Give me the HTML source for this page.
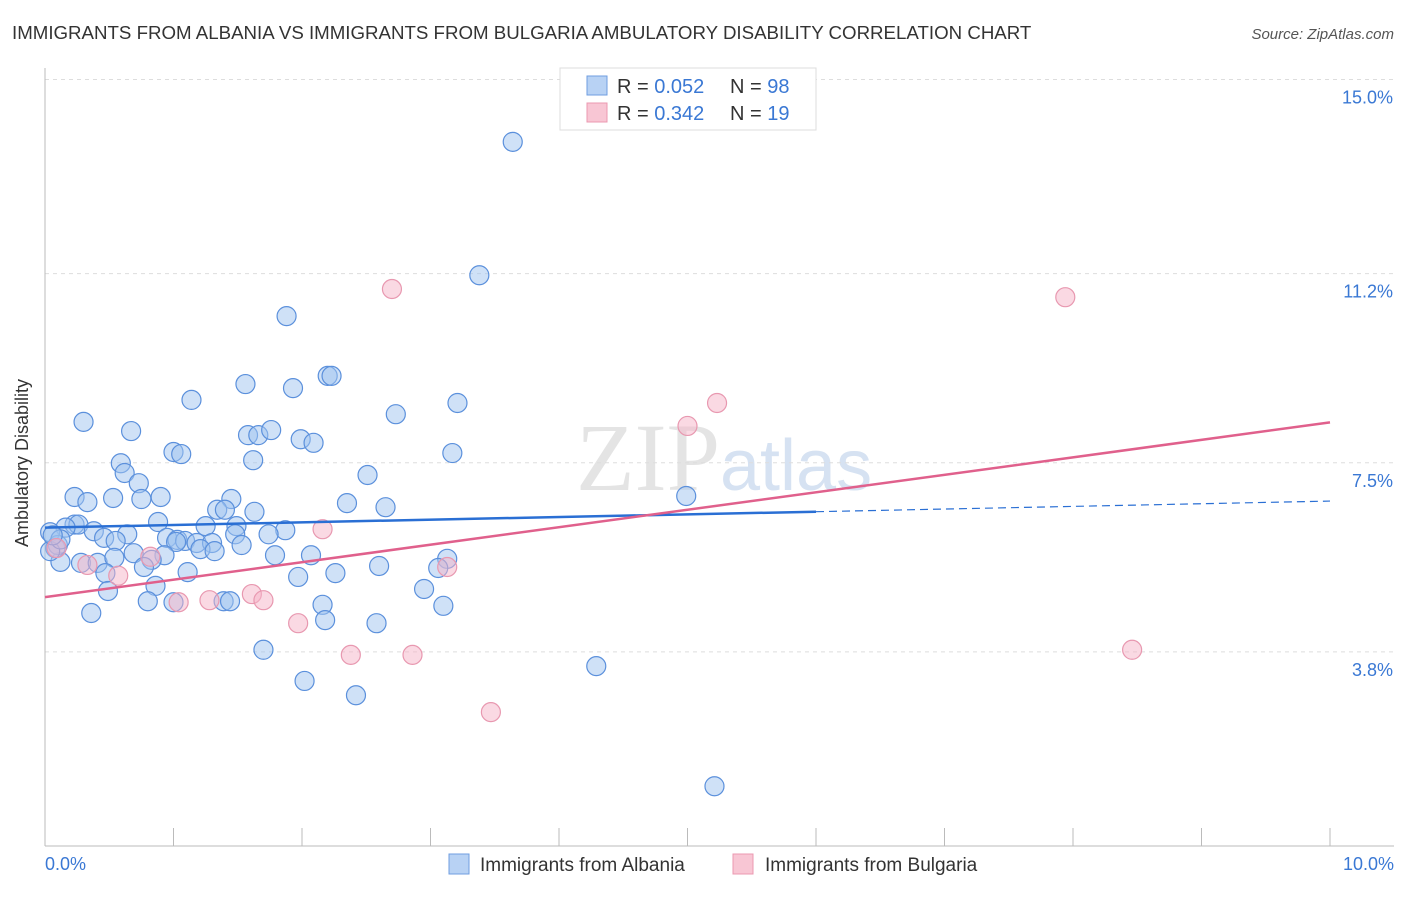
<!DOCTYPE html>
<html><head><meta charset="utf-8"><style>
body{margin:0;background:#fff;font-family:"Liberation Sans",sans-serif}
</style></head><body>
<svg width="1406" height="892" xmlns="http://www.w3.org/2000/svg" font-family="Liberation Sans, sans-serif">
<text x="12" y="39" font-size="18.7" fill="#333">IMMIGRANTS FROM ALBANIA VS IMMIGRANTS FROM BULGARIA AMBULATORY DISABILITY CORRELATION CHART</text>
<text x="1394" y="39" font-size="15" fill="#555" text-anchor="end" font-style="italic">Source: ZipAtlas.com</text>
<text x="720" y="490" font-size="96" fill="#e4e4e4" text-anchor="end" font-family="Liberation Serif, serif">ZIP</text>
<text x="720" y="490" font-size="72" fill="#d6e2f2">atlas</text>
<g id="grid"></g>
<line x1="45" y1="68" x2="45" y2="846" stroke="#bbb"/>
<line x1="45" y1="846" x2="1394" y2="846" stroke="#bbb"/>
<g id="ticks"></g>
<text x="20" y="455" font-size="18" fill="#333" transform="rotate(-90 28 455)" text-anchor="middle">Ambulatory Disability</text>
<text x="45" y="870" font-size="18" fill="#3a78d4">0.0%</text>
<text x="1394" y="870" font-size="18" fill="#3a78d4" text-anchor="end">10.0%</text>
<g id="pts"></g>
<g id="lines"></g>
<g>
<rect x="560" y="68" width="256" height="62" fill="#fff" stroke="#ddd"/>
<rect x="587" y="76" width="20" height="19" fill="#b8d2f4" stroke="#6f9ee0"/>
<rect x="587" y="103" width="20" height="19" fill="#f8c6d4" stroke="#eb98b0"/>
<text x="617" y="93" font-size="20" fill="#333">R = <tspan fill="#3a78d4">0.052</tspan></text>
<text x="730" y="93" font-size="20" fill="#333">N = <tspan fill="#3a78d4">98</tspan></text>
<text x="617" y="120" font-size="20" fill="#333">R = <tspan fill="#3a78d4">0.342</tspan></text>
<text x="730" y="120" font-size="20" fill="#333">N = <tspan fill="#3a78d4"> 19</tspan></text>
</g>
<g>
<rect x="449" y="854" width="20" height="20" fill="#b8d2f4" stroke="#6f9ee0"/>
<text x="480" y="871" font-size="19" fill="#333">Immigrants from Albania</text>
<rect x="733" y="854" width="20" height="20" fill="#f8c6d4" stroke="#eb98b0"/>
<text x="765" y="871" font-size="19" fill="#333">Immigrants from Bulgaria</text>
</g>
</svg>
<script>
const yTicks=[15.0,11.2,7.5,3.8];
const yTickLabels=["15.0%","11.2%","7.5%","3.8%"];
const xTicks=[0,1,2,3,4,5,6,7,8,9,10];
const albaniaX=[3.64,3.38,1.88,2.2,2.23,1.56,1.93,1.14,3.21,2.73,0.3,0.67,1.58,1.66,1.76,1.99,2.09,1.0,1.06,3.17,1.62,0.59,0.62,2.51,0.73,0.23,0.33,0.53,0.75,0.9,2.35,2.65,1.45,4.99,1.34,1.4,1.63,0.88,0.23,0.26,0.16,0.38,1.25,1.49,1.87,0.64,0.04,0.46,0.55,0.95,1.03,1.09,1.18,1.48,1.74,1.3,1.53,1.21,1.32,1.02,0.69,0.93,1.79,2.07,0.83,0.12,0.28,0.41,0.54,0.77,1.11,0.47,2.6,3.13,3.06,1.97,2.26,2.95,0.86,0.49,0.36,0.8,1.0,1.39,1.44,2.16,3.1,2.18,2.58,1.7,4.29,2.02,2.42,5.21,0.08,0.1,0.04,0.12,0.06];
const albaniaY=[13.78,11.17,10.37,9.2,9.2,9.04,8.96,8.73,8.67,8.45,8.3,8.12,8.04,8.04,8.14,7.96,7.89,7.71,7.67,7.69,7.55,7.49,7.3,7.26,7.1,6.83,6.73,6.81,6.79,6.83,6.71,6.63,6.79,6.85,6.58,6.58,6.54,6.34,6.29,6.29,6.23,6.16,6.26,6.26,6.18,6.1,6.14,6.03,5.97,6.03,5.99,5.97,5.93,6.1,6.1,5.93,5.89,5.81,5.77,5.95,5.73,5.69,5.69,5.69,5.6,5.56,5.54,5.54,5.64,5.46,5.36,5.34,5.48,5.62,5.44,5.265,5.34,5.03,5.09,4.99,4.56,4.79,4.77,4.79,4.79,4.72,4.7,4.42,4.36,3.84,3.52,3.23,2.95,1.17,5.83,5.89,5.77,6.0,6.08];
const bulgariaX=[2.7,7.94,5.23,5.0,2.16,0.09,0.82,0.33,0.57,3.13,1.04,1.28,1.61,1.7,1.97,2.38,2.86,8.46,3.47];
const bulgariaY=[10.9,10.74,8.67,8.22,6.2,5.83,5.66,5.5,5.29,5.46,4.77,4.81,4.93,4.81,4.36,3.74,3.74,3.84,2.62];
const albaniaFit=[6.23,0.052];
const bulgariaFit=[4.87,0.342];
const NS="http://www.w3.org/2000/svg";
const X=v=>45+v*128.5, Y=v=>846-v*51.1;
function mk(t,a,p){const e=document.createElementNS(NS,t);for(const k in a)e.setAttribute(k,a[k]);p.appendChild(e);return e;}
const grid=document.getElementById('grid'),ticks=document.getElementById('ticks'),pts=document.getElementById('pts'),lines=document.getElementById('lines');
yTicks.forEach((v,i)=>{
 const l=mk('line',{x1:45,x2:1394,y1:Y(v),y2:Y(v),stroke:'#ddd','stroke-dasharray':'4,4'},grid);
 
 
 const t=mk('text',{x:1393,y:Y(v)+24,'font-size':18,fill:'#3a78d4','text-anchor':'end'},ticks);
 t.textContent=yTickLabels[i];
 
 
});
xTicks.forEach(v=>{
 const l=mk('line',{x1:X(v),x2:X(v),y1:828,y2:846,stroke:'#bbb'},ticks);
 
 
});
albaniaX.forEach((v,i)=>{
 const c=mk('circle',{cx:X(v),cy:Y(albaniaY[i]),r:9.5,fill:'rgba(160,196,240,0.5)',stroke:'#5b90dc','stroke-width':1.2},pts);
 
 
});
bulgariaX.forEach((v,i)=>{
 const c=mk('circle',{cx:X(v),cy:Y(bulgariaY[i]),r:9.5,fill:'rgba(246,180,200,0.5)',stroke:'#e898b0','stroke-width':1.2},pts);
 
 
});
const f=(fit,x)=>fit[0]+fit[1]*x;
let a=mk('line',{x1:X(0),y1:Y(f(albaniaFit,0)),x2:X(6),y2:Y(f(albaniaFit,6)),stroke:'#2a6fd4','stroke-width':2.5},lines);


a=mk('line',{x1:X(6),y1:Y(f(albaniaFit,6)),x2:X(10),y2:Y(f(albaniaFit,10)),stroke:'#2a6fd4','stroke-width':1.2,'stroke-dasharray':'8,5'},lines);


a=mk('line',{x1:X(0),y1:Y(f(bulgariaFit,0)),x2:X(10),y2:Y(f(bulgariaFit,10)),stroke:'#e0608c','stroke-width':2.5},lines);


</script>
</body></html>
